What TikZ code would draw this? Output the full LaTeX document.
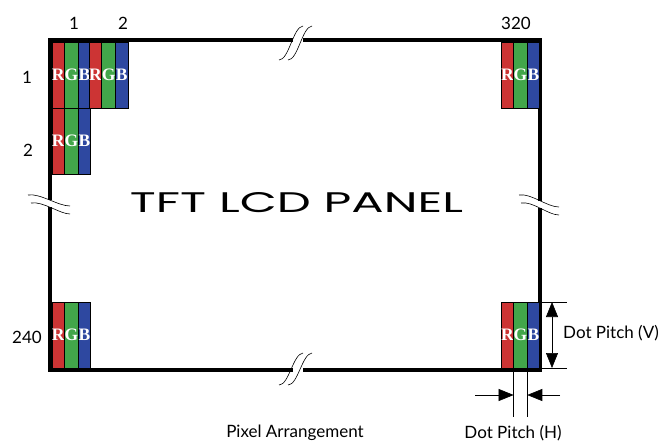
\documentclass[tikz,border=0pt]{standalone}
\usepackage{fontspec}
\setmainfont{Lato}
\newfontfamily\subfont{Liberation Serif}
\newfontfamily\titlefont{Poppins}
\usepackage{tikz}
\usetikzlibrary{positioning,calc,arrows.meta}
\definecolor{subR}{RGB}{204,52,52}
\definecolor{subG}{RGB}{66,166,74}
\definecolor{subB}{RGB}{46,72,160}
\tikzstyle{subpix} = [rectangle, draw=black, line width=0.7pt, outer sep=0pt, inner sep=0pt,
  minimum width=12.4pt, minimum height=66pt, text=white,
  font={\subfont\bfseries\fontsize{17.5}{17.5}\selectfont}]
\tikzstyle{numtag} = [inner sep=0pt, font={\fontsize{17}{20}\selectfont}]
\tikzstyle{panelline} = [line width=4pt, line join=miter]
\tikzstyle{brk} = [line width=0.6pt]
\tikzstyle{dimline} = [line width=0.6pt]
\tikzstyle{dimarrow} = [dimline, -{Triangle[length=15pt,width=12pt]}]
% one pixel = three sub-pixels, top-left corner at (#2,#3)
\newcommand{\rgbpixel}[3]{%
  \node [subpix, fill=subR, anchor=north west] (#1-r) at (#2,#3) {R};
  \node [subpix, fill=subG, right=0pt of #1-r] (#1-g) {G};
  \node [subpix, fill=subB, right=0pt of #1-g] (#1-b) {B};
}
\begin{document}
\begin{tikzpicture}[x=1pt, y=-1pt]
    \useasboundingbox (0,0) rectangle (665,442);
    % panel outline, broken in the middle of each side
    \draw [panelline] (293,40) -- (50,40) -- (50,200);
    \draw [panelline] (50,207) -- (50,370) -- (293,370);
    \draw [panelline] (303,370) -- (540,370) -- (540,208);
    \draw [panelline] (540,201) -- (540,40) -- (303,40);
    \draw [brk] (279,60) .. controls (289,60) and (293,27) .. (303,26);
    \draw [brk] (288,60) .. controls (298,60) and (302,27) .. (312,26);
    \draw [brk] (279,385) .. controls (289,385) and (293,354) .. (303,353);
    \draw [brk] (288,385) .. controls (298,385) and (302,354) .. (312,353);
    \draw [brk] (28,195) .. controls (40,193) and (58,206) .. (70,206);
    \draw [brk] (31,203) .. controls (43,201) and (60,214) .. (70,214);
    \draw [brk] (519,195) .. controls (531,193) and (547,207) .. (559,207);
    \draw [brk] (521,203) .. controls (533,201) and (548,215) .. (559,215);
    % pixels
    \rgbpixel{p11}{52}{42}
    \rgbpixel{p12}{89.2}{42}
    \rgbpixel{p21}{52}{108}
    \rgbpixel{pTR}{501}{42}
    \rgbpixel{pBL}{52}{302}
    \rgbpixel{pBR}{501}{302}
    % row and column numbers
    \node [numtag] (col1) at (74,23) {1};
    \node [numtag] (col2) at (123,23) {2};
    \node [numtag] (col320) at (516,23) {320};
    \node [numtag] (row1) at (27,77) {1};
    \node [numtag] (row2) at (28,150) {2};
    \node [numtag] (row240) at (27,337) {240};
    \node [inner sep=0pt] (title) at (296.5,203)
      {\resizebox{333pt}{20pt}{\titlefont TFT LCD PANEL}};
    % dot pitch (V)
    \coordinate (vtop) at (567,302);
    \coordinate (vbot) at (567,368);
    \coordinate (va) at (552,302);
    \coordinate (vb) at (552,368);
    \draw [dimline] (pBR-b.north east) -- (vtop);
    \draw [dimline] (pBR-b.south east) -- (vbot);
    \draw [dimarrow, {Triangle[length=15pt,width=12pt]}-{Triangle[length=15pt,width=12pt]}] (va) -- (vb);
    \node [numtag, anchor=west] (dpv) at (563,333) {Dot Pitch (V)};
    % dot pitch (H)
    \coordinate (hl) at ($(pBR-g.south west)+(0,49)$);
    \coordinate (hr) at ($(pBR-g.south east)+(0,49)$);
    \coordinate (hla) at ($(pBR-g.south west)+(0,27)$);
    \coordinate (hra) at ($(pBR-g.south east)+(0,27)$);
    \coordinate (hlo) at (475,395);
    \coordinate (hro) at (560,395);
    \draw [dimline] (pBR-g.south west) -- (hl);
    \draw [dimline] (pBR-g.south east) -- (hr);
    \draw [dimarrow] (hlo) -- (hla);
    \draw [dimarrow] (hro) -- (hra);
    \node [numtag] (dph) at (513,433) {Dot Pitch (H)};
    \node [numtag] (caption) at (295,433) {Pixel Arrangement};
  \end{tikzpicture}
\end{document}
